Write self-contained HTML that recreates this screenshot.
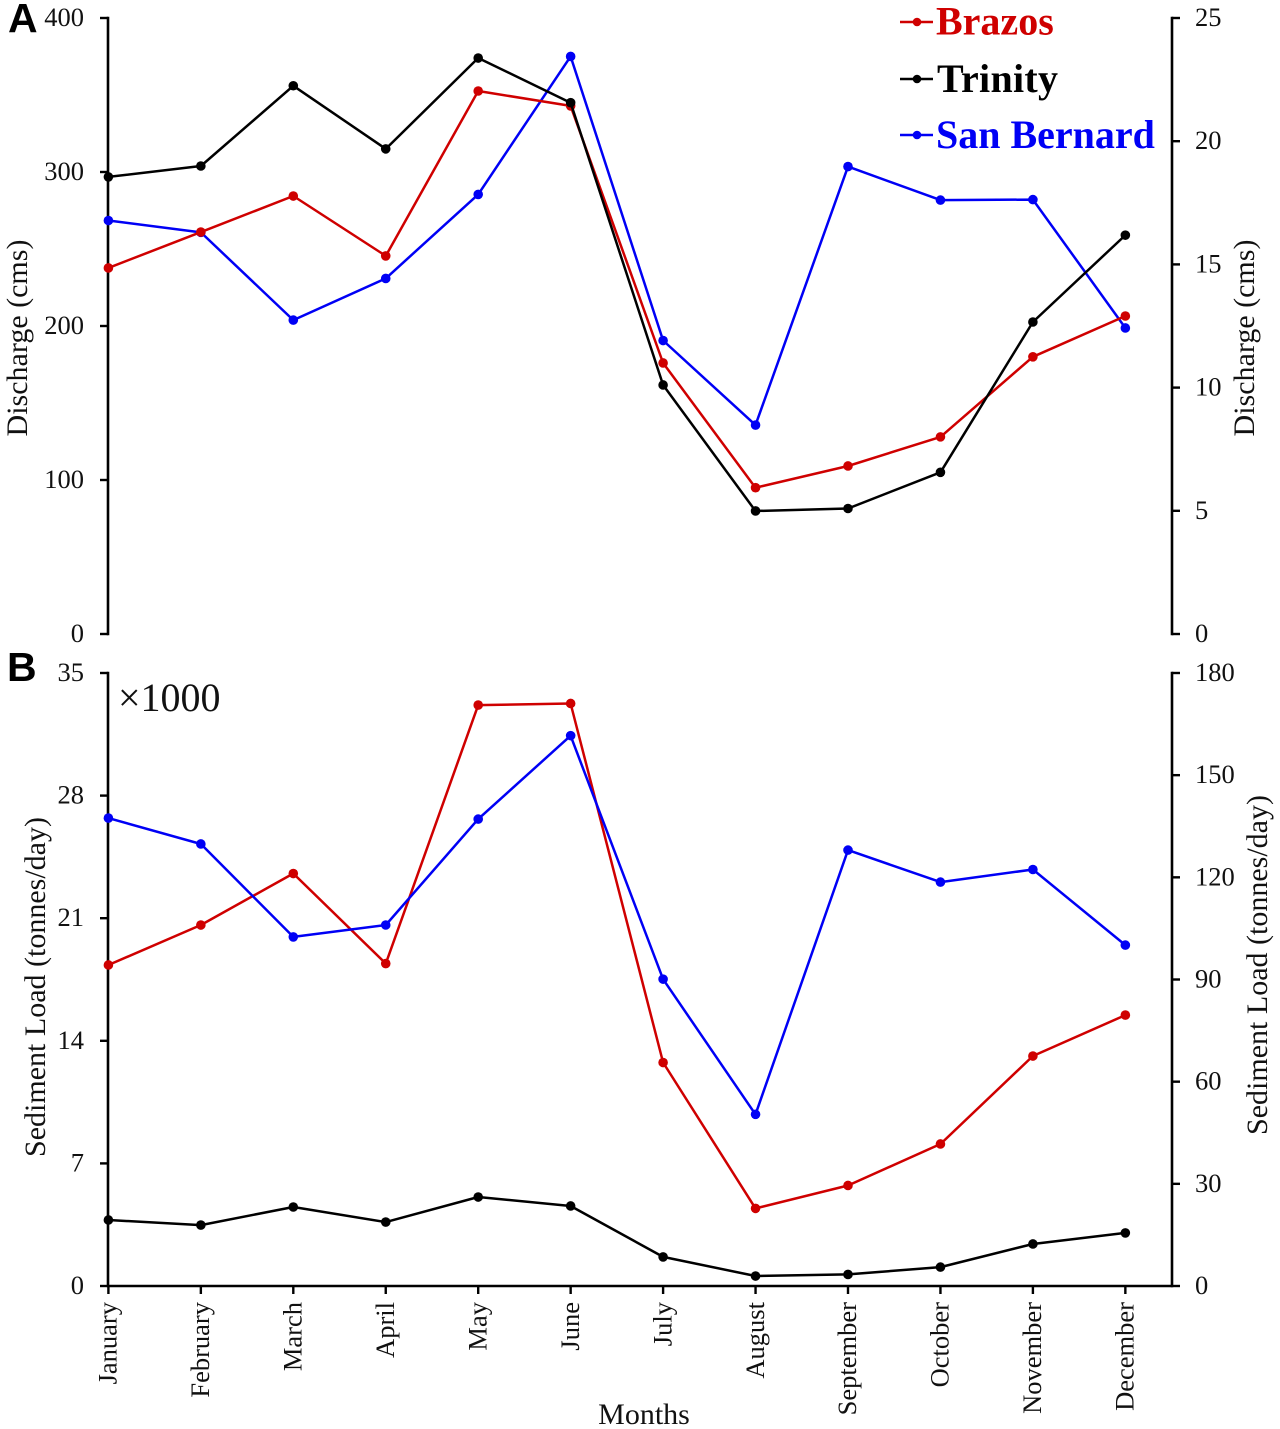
<!DOCTYPE html>
<html lang="en">
<head>
<meta charset="utf-8">
<title>Discharge and Sediment Load by Month</title>
<style>
html,body{margin:0;padding:0;background:#fff;}
svg{display:block;}
text{font-family:"Liberation Serif",serif;fill:#111;}
.tick{font-size:26.5px;}
.title{font-size:30px;}
.panel{font-family:"Liberation Sans",sans-serif;font-weight:700;font-size:41px;fill:#000;}
.legend{font-size:40px;font-weight:700;}
</style>
</head>
<body>
<svg id="chart" xmlns="http://www.w3.org/2000/svg" width="1280" height="1429" viewBox="0 0 1280 1429">
  <rect width="1280" height="1429" fill="#fff"/>
  <text class="panel" x="8" y="32">A</text>
  <text class="panel" x="7" y="681">B</text>
  <text x="118" y="711" font-size="40">×1000</text>
  <text class="title" transform="translate(27 338) rotate(-90)" text-anchor="middle">Discharge (cms)</text>
  <text class="title" transform="translate(1254 338) rotate(-90)" text-anchor="middle">Discharge (cms)</text>
  <text class="title" transform="translate(45 987) rotate(-90)" text-anchor="middle">Sediment Load (tonnes/day)</text>
  <text class="title" transform="translate(1267 965) rotate(-90)" text-anchor="middle">Sediment Load (tonnes/day)</text>
  <text class="title" x="644" y="1424" text-anchor="middle">Months</text>
  <g>
    <g>
      <line x1="900" x2="933" y1="22" y2="22" stroke="#cf0000" stroke-width="2.5"/>
      <circle cx="917" cy="22" r="4.3" fill="#cf0000"/>
      <text class="legend" x="936" y="34.5" style="fill:#cf0000">Brazos</text>
    </g>
    <g>
      <line x1="900" x2="933" y1="79" y2="79" stroke="#000" stroke-width="2.5"/>
      <circle cx="917" cy="79" r="4.3" fill="#000"/>
      <text class="legend" x="937" y="92" textLength="121" style="fill:#000">Trinity</text>
    </g>
    <g>
      <line x1="900" x2="933" y1="135" y2="135" stroke="#0000f5" stroke-width="2.5"/>
      <circle cx="917" cy="135" r="4.3" fill="#0000f5"/>
      <text class="legend" x="936" y="148" style="fill:#0000f5">San Bernard</text>
    </g>
  </g>
</svg>
<script>
const months = ["January","February","March","April","May","June","July","August","September","October","November","December"];

const dischargeBrazos = [237.7,261,284.4,245.5,352.6,342.9,176,95,109.1,128,180,206.5];
const dischargeTrinity = [296.8,303.9,356,315,374,345,161.7,79.9,81.5,105,202.6,259];
const dischargeSanBernard = [16.78,16.3,12.74,14.43,17.84,23.44,11.91,8.48,18.97,17.61,17.63,12.42];

const sedimentBrazos = [18.33,20.61,23.55,18.41,33.17,33.26,12.76,4.43,5.74,8.11,13.13,15.47];
const sedimentTrinity = [3.77,3.48,4.51,3.65,5.08,4.57,1.66,0.57,0.66,1.08,2.4,3.03];
const sedimentSanBernard = [137.4,129.8,102.5,106,137.1,161.6,90.1,50.4,128,118.6,122.3,100.1];

const dischargeLeftTicks = [0,100,200,300,400];
const dischargeRightTicks = [0,5,10,15,20,25];
const sedimentLeftTicks = [0,7,14,21,28,35];
const sedimentRightTicks = [0,30,60,90,120,150,180];

const RED = "#cf0000", BLACK = "#000", BLUE = "#0000f5";
const NS = "http://www.w3.org/2000/svg";
const svg = document.getElementById("chart");

const axisLeft = 108, axisRight = 1172, firstX = 108.4, stepX = 92.45;
const xPos = i => firstX + i * stepX;
const scale = (top, bottom, max) => v => bottom - (v / max) * (bottom - top);

function make(tag, attrs, parent) {
  const el = document.createElementNS(NS, tag);
  for (const k in attrs) el.setAttribute(k, attrs[k]);
  parent.appendChild(el);
  return el;
}

function drawYAxis(name, x, dir, ticks, y, labelOffset) {
  const g = make("g", {}, svg);
  
  
  const spine = make("line", {x1:x, x2:x, y1:y(ticks[ticks.length-1])-1.2, y2:y(0)+1.2, stroke:"#000", "stroke-width":2.6}, g);
  
  
  ticks.forEach(t => {
    const tick = make("line", {x1:x, x2:x+dir*8, y1:y(t), y2:y(t), stroke:"#000", "stroke-width":2.4}, g);
    
    
    const label = make("text", {x:x+dir*labelOffset, y:y(t)+8, class:"tick", "text-anchor":dir<0?"end":"start"}, g);
    
    
    label.textContent = t;
  });
}

function drawSeries(name, values, y, color) {
  const g = make("g", {}, svg);
  
  
  const pts = values.map((v, i) => xPos(i).toFixed(1) + "," + y(v).toFixed(1)).join(" ");
  const line = make("polyline", {points:pts, fill:"none", stroke:color, "stroke-width":2.5, "stroke-linejoin":"round"}, g);
  
  
  values.forEach((v, i) => {
    const c = make("circle", {cx:xPos(i), cy:y(v), r:4.8, fill:color}, g);
    
    
  });
}

const yDisL = scale(18, 634, 400);
const yDisR = scale(18, 634, 25);
const ySedL = scale(673, 1286, 35);
const ySedR = scale(673, 1286, 180);

drawYAxis("discharge-left-axis", axisLeft, -1, dischargeLeftTicks, yDisL, 24);
drawYAxis("discharge-right-axis", axisRight, 1, dischargeRightTicks, yDisR, 23);
drawYAxis("sediment-left-axis", axisLeft, -1, sedimentLeftTicks, ySedL, 24);
drawYAxis("sediment-right-axis", axisRight, 1, sedimentRightTicks, ySedR, 23);

const xAxis = make("g", {}, svg);


const xLine = make("line", {x1:axisLeft, x2:axisRight, y1:1286, y2:1286, stroke:"#000", "stroke-width":2.6}, xAxis);


months.forEach((m, i) => {
  const x = xPos(i);
  const tick = make("line", {x1:x, x2:x, y1:1286, y2:1294, stroke:"#000", "stroke-width":2.4}, xAxis);
  
  
  const label = make("text", {transform:"translate(" + (x + 8.2) + " 1302) rotate(-90)", class:"tick", "text-anchor":"end"}, xAxis);
  
  
  label.textContent = m;
});

drawSeries("discharge-san-bernard-series", dischargeSanBernard, yDisR, BLUE);
drawSeries("discharge-brazos-series", dischargeBrazos, yDisL, RED);
drawSeries("discharge-trinity-series", dischargeTrinity, yDisL, BLACK);
drawSeries("sediment-trinity-series", sedimentTrinity, ySedL, BLACK);
drawSeries("sediment-brazos-series", sedimentBrazos, ySedL, RED);
drawSeries("sediment-san-bernard-series", sedimentSanBernard, ySedR, BLUE);
</script>
</body>
</html>
